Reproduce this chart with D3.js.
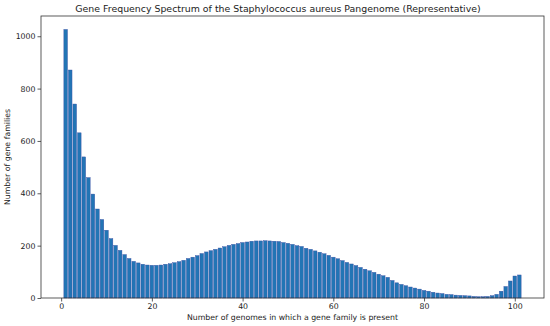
<!DOCTYPE html>
<html>
<head>
<meta charset="utf-8">
<script src="https://d3js.org/d3.v7.min.js"></script>
<style>
  body { margin: 0; background: #fff; }
  text { font-family: "DejaVu Sans", sans-serif; fill: #222; }
</style>
</head>
<body>
<script>
// number of gene families found in exactly k genomes, k = 1..101
var counts = [1026, 871, 741, 631, 539, 460, 397, 340, 300, 259,
              227, 201, 182, 166, 151, 140, 134, 129, 126, 125,
              125, 126, 129, 131, 135, 139, 144, 151, 156, 162,
              170, 176, 181, 186, 191, 196, 201, 205, 208, 212,
              214, 217, 218, 218, 219, 218, 217, 216, 212, 209,
              205, 200, 197, 190, 186, 180, 175, 169, 163, 156,
              150, 143, 136, 130, 124, 117, 110, 104, 98, 91,
              85, 79, 67, 58, 52, 47, 42, 38, 34, 29,
              26, 22, 19, 17, 14, 13, 11, 10, 9, 8,
              6, 5, 5, 6, 9, 14, 26, 44, 65, 84,
              88];
var genomes = counts.map(function(d, i) { return i + 1; });
var xTicks = [0, 20, 40, 60, 80, 100];
var yTicks = [0, 200, 400, 600, 800, 1000];

var width = 550;
var height = 326;
var margin = {left: 41, top: 16, right: 6, bottom: 28};

var svg = d3.select("body").append("svg").attr("width", width).attr("height", height);

var barW = 0.8;
var xMin = d3.min(genomes) - barW / 2, xMax = d3.max(genomes) + barW / 2;
var xPad = (xMax - xMin) * 0.05;
var x = d3.scaleLinear()
    .domain([xMin - xPad, xMax + xPad])
    .range([margin.left, width - margin.right]);
var y = d3.scaleLinear()
    .domain([0, d3.max(counts) * 1.05])
    .range([height - margin.bottom, margin.top]);

svg.append("g").selectAll("rect")
    .data(counts)
    .enter().append("rect")
    .attr("x", function(d, i) { return x(genomes[i] - barW / 2); })
    .attr("width", function(d, i) { return x(genomes[i] + barW / 2) - x(genomes[i] - barW / 2); })
    .attr("y", function(d) { return y(d); })
    .attr("height", function(d) { return y(0) - y(d); })
    .attr("fill", "#2275b5")
    .attr("stroke", "#3b4ea3")
    .attr("stroke-width", 0.4);

var xAxis = svg.append("g")
    .attr("transform", "translate(0," + (height - margin.bottom) + ")")
    .call(d3.axisBottom(x).tickValues(xTicks).tickFormat(d3.format("d")).tickSize(3.5).tickPadding(2));
var yAxis = svg.append("g")
    .attr("transform", "translate(" + margin.left + ",0)")
    .call(d3.axisLeft(y).tickValues(yTicks).tickFormat(d3.format("d")).tickSize(3.5).tickPadding(2));

[xAxis, yAxis].forEach(function(a) {
  a.select(".domain").remove();
  a.selectAll("line").attr("stroke", "#333").attr("stroke-width", 0.8);
  a.selectAll("text").style("font-size", "7.8px").attr("fill", "#222");
});

// frame
svg.append("rect")
    .attr("x", margin.left).attr("y", margin.top)
    .attr("width", width - margin.right - margin.left)
    .attr("height", height - margin.bottom - margin.top)
    .attr("fill", "none").attr("stroke", "#333").attr("stroke-width", 0.8);

svg.append("text")
    .attr("x", 278).attr("y", 12)
    .attr("text-anchor", "middle")
    .style("font-size", "9.4px")
    .text("Gene Frequency Spectrum of the Staphylococcus aureus Pangenome (Representative)");

svg.append("text")
    .attr("x", (margin.left + width - margin.right) / 2).attr("y", 320)
    .attr("text-anchor", "middle")
    .style("font-size", "7.8px")
    .text("Number of genomes in which a gene family is present");

svg.append("text")
    .attr("transform", "translate(10," + ((margin.top + height - margin.bottom) / 2) + ") rotate(-90)")
    .attr("text-anchor", "middle")
    .style("font-size", "7.8px")
    .text("Number of gene families");
</script>
</body>
</html>
